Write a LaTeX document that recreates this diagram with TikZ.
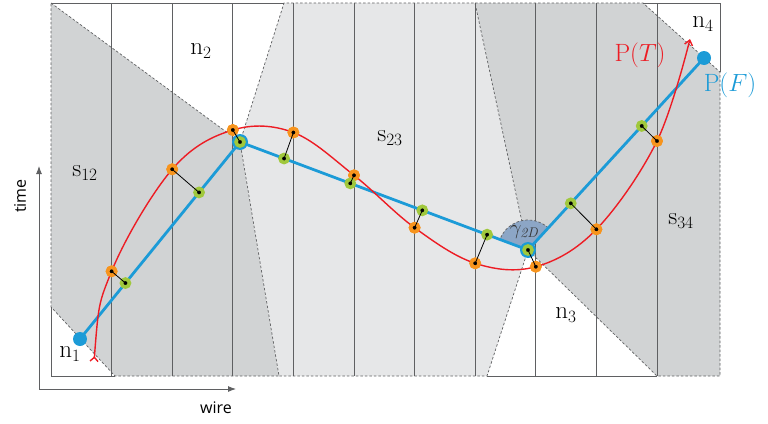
\documentclass[tikz,border=0pt]{standalone}
\usepackage{fontspec}
\newfontfamily\axisfont{Open Sans}
\usetikzlibrary{arrows.meta,calc,positioning}
\definecolor{regdark}{RGB}{209,211,212}
\definecolor{reglight}{RGB}{230,231,232}
\definecolor{gridgray}{RGB}{95,96,98}
\definecolor{pfblue}{RGB}{28,155,215}
\definecolor{ptred}{RGB}{237,28,36}
\definecolor{ptorange}{RGB}{247,148,29}
\definecolor{pfgreen}{RGB}{160,200,60}
\definecolor{anglefill}{RGB}{140,166,198}

\begin{document}
\begin{tikzpicture}[x=1pt, y=-1pt, every node/.style={font=\fontsize{25}{28}\selectfont}]
\tikzset{border/.style={draw=gridgray, dash pattern=on 2.5pt off 2pt, line width=0.7pt}}
\tikzset{frame/.style={draw=gridgray, line width=0.9pt}}
\tikzset{wireline/.style={draw=gridgray, line width=0.9pt}}
\tikzset{gpt/.style={circle, fill=black, draw=pfgreen, line width=3.6pt, minimum size=8pt, inner sep=0pt}}
\tikzset{opt/.style={circle, fill=black, draw=ptorange, line width=3.6pt, minimum size=8pt, inner sep=0pt}}
\tikzset{hubring/.style={circle, fill=pfblue, minimum size=16pt, inner sep=0pt}}
\tikzset{endpt/.style={circle, fill=pfblue, minimum size=14pt, inner sep=0pt}}
\tikzset{link/.style={draw=black, line width=0.8pt}}
\tikzset{axis/.style={draw=gridgray, line width=0.9pt, -{Latex[length=8pt, width=6pt]}}}

\useasboundingbox (0,0) rectangle (768,423);

% Nodes of the path P(F)
\coordinate (n1) at (80,339);
\coordinate (n2) at (240,142);
\coordinate (n3) at (528,250);
\coordinate (n4) at (704,58);

% Regions
\fill[regdark] (51,3) -- (n2) -- (279,376) -- (115,376) -- (51,307) -- cycle;
\fill[reglight] (284,3) -- (n2) -- (279,376) -- (487,376) -- (n3) -- (475,3) -- cycle;
\fill[regdark] (475,3) -- (643,3) -- (720,72) -- (720,376) -- (657,376) -- (n3) -- cycle;
\draw[border] (51,3) -- (n2) -- (279,376) -- (115,376) -- (51,307) -- cycle;
\draw[border] (n2) -- (284,3) -- (475,3) -- (n3) -- (487,376) -- (279,376);
\draw[border] (475,3) -- (643,3) -- (720,72) -- (720,376) -- (657,376) -- (n3);

% Wires
\foreach \k in {1,...,10}
  \draw[wireline] ({51+60.6*\k},3) -- ({51+60.6*\k},376);
\draw[frame] (51,307) |- (115,376);
\draw[frame] (51,3) -- (284,3);
\draw[frame] (487,376) -- (657,376);
\draw[frame] (643,3) -| (720,72);

% Angle at n3
\fill[anglefill] (n3) -- ($(n3)+(-47.5:30)$) arc[start angle=-47.5, end angle=-159.4, radius=30] -- cycle;
\draw[border] ($(n3)+(-47.5:30)$) arc[start angle=-47.5, end angle=-159.4, radius=30];

% P(F)
\draw[pfblue, line width=2.8pt, line join=round] (n1) -- (n2) -- (n3) -- (n4);

% Sample points
\node[opt] (o1) at (111.6,271.3) {};
\node[opt] (o2) at (172.2,169.3) {};
\node[opt] (o3) at (232.8,130) {};
\node[opt] (o4) at (293.4,132.5) {};
\node[opt] (o5) at (354,175.3) {};
\node[opt] (o6) at (414.6,227.7) {};
\node[opt] (o7) at (475.2,263.3) {};
\node[opt] (o8) at (535.8,266.7) {};
\node[opt] (o9) at (596.4,229.3) {};
\node[opt] (o10) at (657,141) {};

% P(T)
\coordinate (tstart) at (94,362);
\coordinate (tend) at (690,39);
\draw[ptred, line width=1.4pt, {Straight Barb[reversed, length=4pt, width=8pt]}-{Straight Barb[length=5pt, width=8pt]}]
  plot[smooth, tension=0.6] coordinates {(tstart) (o1.center) (o2.center) (o3.center) (o4.center) (o5.center)
    (o6.center) (o7.center) (o8.center) (o9.center) (o10.center) (tend)};
\foreach \p in {o1,o2,o3,o4,o5,o6,o7,o8,o9,o10}
  \node[opt] at (\p) {};

\node[endpt] (e1) at (n1) {};
\node[endpt] (e4) at (n4) {};
\node[hubring] (h2) at (n2) {};
\node[hubring] (h3) at (n3) {};
\node[gpt] (g1) at ($(n1)!0.284!(n2)$) {};
\node[gpt] (g2) at ($(n1)!0.744!(n2)$) {};
\node[gpt] (g3) at (n2) {};
\node[gpt] (g4) at ($(n2)!0.153!(n3)$) {};
\node[gpt] (g5) at ($(n2)!0.383!(n3)$) {};
\node[gpt] (g6) at ($(n2)!0.633!(n3)$) {};
\node[gpt] (g7) at ($(n2)!0.858!(n3)$) {};
\node[gpt] (g8) at (n3) {};
\node[gpt] (g9) at ($(n3)!0.243!(n4)$) {};
\node[gpt] (g10) at ($(n3)!0.646!(n4)$) {};
\foreach \i in {1,...,10}
  \draw[link] (g\i.center) -- (o\i.center);

% Labels
\node (l1) at (70,354) {$\mathrm{n}_1$};
\node (l2) at (201,51) {$\mathrm{n}_2$};
\node (l3) at (566,315) {$\mathrm{n}_3$};
\node (l4) at (703,24) {$\mathrm{n}_4$};
\node (s12) at (85,173) {$\mathrm{s}_{12}$};
\node (s23) at (390,138) {$\mathrm{s}_{23}$};
\node (s34) at (681,221) {$\mathrm{s}_{34}$};
\node[text=ptred] (pt) at (640,55) {$\mathrm{P}(T)$};
\node[text=pfblue] (pf) at (730,85) {$\mathrm{P}(F)$};
\node[font=\fontsize{20}{22}\selectfont, text=black!80] (gam) at (524,232) {$\gamma_{\mathit{2D}}$};

% Axes
\coordinate (orig) at (39,389);
\coordinate (tup) at (39,166);
\coordinate (wright) at (236,389);
\draw[axis] (orig) -- (tup);
\draw[axis] (orig) -- (wright);
\node[font=\axisfont\fontsize{16}{18}\selectfont, rotate=90] (time) at (20,196) {time};
\node[font=\axisfont\fontsize{16}{18}\selectfont] (wire) at (216,408) {wire};
\end{tikzpicture}
\end{document}
